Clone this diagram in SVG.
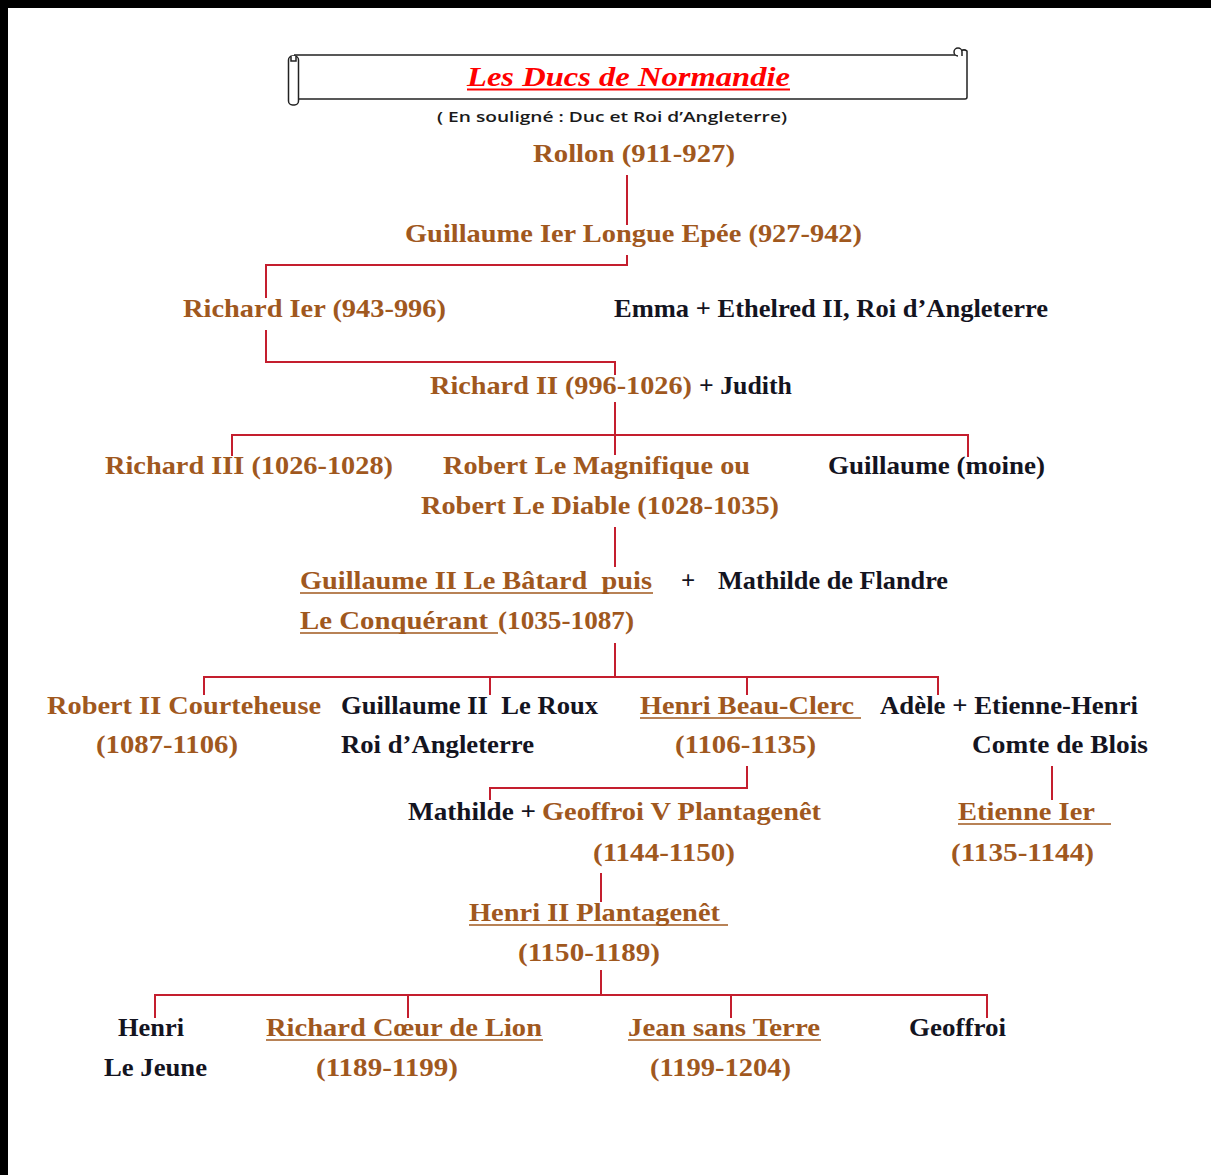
<svg xmlns="http://www.w3.org/2000/svg" width="1211" height="1175" viewBox="0 0 1211 1175">
<style>
.t{font-family:"Liberation Serif","Times New Roman",serif;font-weight:bold;font-size:25px;white-space:pre}
.b{fill:#A0581E}
.d{fill:#14141f}
.ul{stroke:#A0581E;stroke-width:1.6}
.c{fill:none;stroke:#C41E2E;stroke-width:2}
.scroll{fill:#fff;stroke:#222;stroke-width:1.5}
</style>
<rect x="0" y="0" width="1211" height="1175" fill="#fff"/>
<rect x="0" y="0" width="1211" height="8" fill="#000"/>
<rect x="0" y="0" width="8" height="1175" fill="#000"/>

<g id="title">
  <path class="scroll" d="M294,55 H961 V51 a5,5 0 0 1 6,0 V97 a2,2 0 0 1 -2,2 H298"/>
  <path class="scroll" d="M958,56 a4,4 0 0 1 0,-8 a4,4 0 0 1 4,4 v4"/>
  <rect class="scroll" x="288.5" y="56" width="10" height="49" rx="4"/>
  <path class="scroll" d="M291,56 v5 h5 v-5"/>
  <text x="467" y="86" textLength="323" lengthAdjust="spacingAndGlyphs" style="font-family:'Liberation Serif',serif;font-weight:bold;font-style:italic;font-size:28px;fill:#FF0000">Les Ducs de Normandie</text>
  <line x1="467" y1="89.5" x2="790" y2="89.5" stroke="#FF0000" stroke-width="1.8"/>
  <text x="437" y="122" textLength="350" lengthAdjust="spacingAndGlyphs" style="font-family:'Open Sans','Liberation Sans',sans-serif;font-weight:600;font-size:14px;fill:#1a1a1a">( En souligné : Duc et Roi d’Angleterre)</text>
</g>

<g id="connectors">
  <path class="c" d="M627,175 V225"/>
  <path class="c" d="M627,255 V265 H266 V298"/>
  <path class="c" d="M266,330 V362 H615 V375"/>
  <path class="c" d="M615,402 V455 M232,456 V435 H968 V457"/>
  <path class="c" d="M615,527 V567"/>
  <path class="c" d="M615,643 V677 M204,695 V677 H938 V695 M490,677 V695 M747,677 V695"/>
  <path class="c" d="M747,766 V788 H490 V800"/>
  <path class="c" d="M1052,766 V800"/>
  <path class="c" d="M601,873 V902"/>
  <path class="c" d="M601,970 V995 M155,1018 V995 H987 V1018 M408,995 V1018 M731,995 V1018"/>
</g>

<g id="rollon"><text class="t b" x="533" y="162" textLength="202" lengthAdjust="spacingAndGlyphs">Rollon (911-927)</text></g>
<g id="guillaume1"><text class="t b" x="405" y="242" textLength="457" lengthAdjust="spacingAndGlyphs">Guillaume Ier Longue Epée (927-942)</text></g>
<g id="richard1"><text class="t b" x="183" y="317" textLength="263" lengthAdjust="spacingAndGlyphs">Richard Ier (943-996)</text></g>
<g id="emma"><text class="t d" x="614" y="317" textLength="434" lengthAdjust="spacingAndGlyphs">Emma + Ethelred II, Roi d’Angleterre</text></g>
<g id="richard2">
  <text class="t b" x="430" y="394" textLength="262" lengthAdjust="spacingAndGlyphs">Richard II (996-1026)</text>
  <text class="t d" x="699" y="394" textLength="93" lengthAdjust="spacingAndGlyphs">+ Judith</text>
</g>
<g id="richard3"><text class="t b" x="105" y="474" textLength="288" lengthAdjust="spacingAndGlyphs">Richard III (1026-1028)</text></g>
<g id="robert">
  <text class="t b" x="443" y="474" textLength="307" lengthAdjust="spacingAndGlyphs">Robert Le Magnifique ou</text>
  <text class="t b" x="421" y="514" textLength="358" lengthAdjust="spacingAndGlyphs">Robert Le Diable (1028-1035)</text>
</g>
<g id="guillaume-moine"><text class="t d" x="828" y="474" textLength="217" lengthAdjust="spacingAndGlyphs">Guillaume (moine)</text></g>
<g id="guillaume2">
  <text class="t b" x="300" y="589" textLength="352" lengthAdjust="spacingAndGlyphs">Guillaume II Le Bâtard  puis</text>
  <line class="ul" x1="300" y1="593" x2="653" y2="593"/>
  <text class="t b" x="300" y="629" textLength="188" lengthAdjust="spacingAndGlyphs">Le Conquérant</text>
  <line class="ul" x1="300" y1="633" x2="498" y2="633"/>
  <text class="t b" x="498" y="629" textLength="136" lengthAdjust="spacingAndGlyphs">(1035-1087)</text>
</g>
<g id="mathilde-flandre">
  <text class="t d" x="681" y="589">+</text>
  <text class="t d" x="718" y="589" textLength="230" lengthAdjust="spacingAndGlyphs">Mathilde de Flandre</text>
</g>
<g id="robert2">
  <text class="t b" x="47" y="714" textLength="274" lengthAdjust="spacingAndGlyphs">Robert II Courteheuse</text>
  <text class="t b" x="96" y="753" textLength="142" lengthAdjust="spacingAndGlyphs">(1087-1106)</text>
</g>
<g id="guillaume-roux">
  <text class="t d" x="341" y="714" textLength="257" lengthAdjust="spacingAndGlyphs">Guillaume II  Le Roux</text>
  <text class="t d" x="341" y="753" textLength="193" lengthAdjust="spacingAndGlyphs">Roi d’Angleterre</text>
</g>
<g id="henri-beauclerc">
  <text class="t b" x="640" y="714" textLength="214" lengthAdjust="spacingAndGlyphs">Henri Beau-Clerc</text>
  <line class="ul" x1="640" y1="718" x2="861" y2="718"/>
  <text class="t b" x="675" y="753" textLength="141" lengthAdjust="spacingAndGlyphs">(1106-1135)</text>
</g>
<g id="adele">
  <text class="t d" x="880" y="714" textLength="258" lengthAdjust="spacingAndGlyphs">Adèle + Etienne-Henri</text>
  <text class="t d" x="972" y="753" textLength="176" lengthAdjust="spacingAndGlyphs">Comte de Blois</text>
</g>
<g id="mathilde">
  <text class="t d" x="408" y="820" textLength="128" lengthAdjust="spacingAndGlyphs">Mathilde +</text>
  <text class="t b" x="542" y="820" textLength="279" lengthAdjust="spacingAndGlyphs">Geoffroi V Plantagenêt</text>
  <text class="t b" x="593" y="861" textLength="142" lengthAdjust="spacingAndGlyphs">(1144-1150)</text>
</g>
<g id="etienne">
  <text class="t b" x="958" y="820" textLength="137" lengthAdjust="spacingAndGlyphs">Etienne Ier</text>
  <line class="ul" x1="958" y1="824" x2="1111" y2="824"/>
  <text class="t b" x="951" y="861" textLength="143" lengthAdjust="spacingAndGlyphs">(1135-1144)</text>
</g>
<g id="henri2">
  <text class="t b" x="469" y="921" textLength="251" lengthAdjust="spacingAndGlyphs">Henri II Plantagenêt</text>
  <line class="ul" x1="469" y1="925" x2="728" y2="925"/>
  <text class="t b" x="518" y="961" textLength="142" lengthAdjust="spacingAndGlyphs">(1150-1189)</text>
</g>
<g id="henri-jeune">
  <text class="t d" x="118" y="1036" textLength="66" lengthAdjust="spacingAndGlyphs">Henri</text>
  <text class="t d" x="104" y="1076" textLength="103" lengthAdjust="spacingAndGlyphs">Le Jeune</text>
</g>
<g id="richard-coeur">
  <text class="t b" x="266" y="1036" textLength="276" lengthAdjust="spacingAndGlyphs">Richard Cœur de Lion</text>
  <line class="ul" x1="266" y1="1040" x2="543" y2="1040"/>
  <text class="t b" x="316" y="1076" textLength="142" lengthAdjust="spacingAndGlyphs">(1189-1199)</text>
</g>
<g id="jean">
  <text class="t b" x="628" y="1036" textLength="192" lengthAdjust="spacingAndGlyphs">Jean sans Terre</text>
  <line class="ul" x1="628" y1="1040" x2="821" y2="1040"/>
  <text class="t b" x="650" y="1076" textLength="141" lengthAdjust="spacingAndGlyphs">(1199-1204)</text>
</g>
<g id="geoffroi"><text class="t d" x="909" y="1036" textLength="97" lengthAdjust="spacingAndGlyphs">Geoffroi</text></g>
</svg>
